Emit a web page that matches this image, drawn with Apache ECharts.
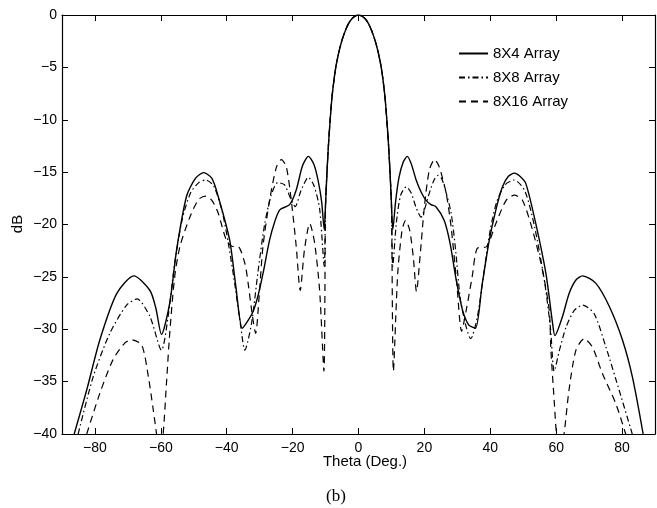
<!DOCTYPE html>
<html>
<head>
<meta charset="utf-8">
<script src="https://cdn.jsdelivr.net/npm/echarts@6/dist/echarts.min.js"></script>
<style>
html,body{margin:0;padding:0;background:#fff;}
#c{width:657px;height:508px;}
</style>
</head>
<body>
<div id="c"></div>
<script>
// ---- data ----
const seriesNames = ['8X4 Array', '8X8 Array', '8X16 Array'];
const xTicks = [-80, -60, -40, -20, 0, 20, 40, 60, 80];

// main lobe shared by all three patterns
const mainTheta = [-10, -9.5, -9, -8.5, -8, -7, -6, -5, -4, -3, -2, -1, 0, 1, 2, 3, 4, 5, 6, 7, 8, 8.5, 9, 9.5, 10];
const mainDb    = [-18.0, -14.6, -11.8, -9.6, -7.7, -5.2, -3.6, -2.4, -1.5, -0.8, -0.35, -0.1, 0, -0.1, -0.35, -0.8, -1.5, -2.4, -3.6, -5.2, -7.7, -9.6, -11.8, -14.6, -18.0];

// 8X4 (solid)
const s4LeftTheta = [-86.3, -82.5, -78.5, -73.4, -68.2, -63.3, -61.5, -59.8, -57.3, -55.2, -52.2, -49.5, -47.0, -44.5, -42.6, -39.1, -37.2, -35.3, -33.8, -32.0, -30.5, -29.0, -27.0, -25.5, -23.9, -20.9, -18.9, -17.0, -15.2, -13.5, -12.3, -11.2, -10.4];
const s4LeftDb    = [-40, -35.8, -31.0, -26.6, -24.9, -26.3, -28.0, -30.5, -27.5, -22.4, -17.3, -15.6, -15.05, -15.6, -17.3, -21.5, -26.0, -29.9, -29.3, -28.3, -26.8, -24.7, -21.5, -19.8, -18.6, -18.1, -16.7, -14.4, -13.5, -14.3, -15.75, -17.8, -20.5];
const s4RightTheta = [10.4, 11.3, 12.3, 13.5, 14.8, 16.0, 17.5, 19.0, 20.5, 22.0, 23.5, 26.0, 27.8, 29.6, 31.6, 33.5, 35.5, 37.5, 39.7, 41.7, 43.7, 45.5, 47.3, 49.0, 50.8, 53.8, 56.9, 58.9, 59.6, 61.9, 63.9, 66.0, 68.0, 72.0, 76.1, 80.1, 83.1, 86.4];
const s4RightDb    = [-20.5, -17.7, -15.5, -14.1, -13.5, -14.2, -15.75, -16.9, -17.7, -18.1, -18.3, -19.6, -21.8, -25.2, -28.2, -29.6, -29.9, -25.8, -21.5, -18.6, -16.4, -15.4, -15.1, -15.4, -16.1, -19.9, -24.7, -29.4, -30.6, -28.8, -26.6, -25.3, -24.9, -25.6, -27.8, -31.0, -34.5, -40];

// 8X8 (dash-dot)
const s8LeftTheta = [-85.1, -80.5, -75.5, -70.4, -67.2, -63.3, -59.8, -57.8, -55.8, -53.5, -51.0, -48.5, -46.4, -44.0, -41.5, -39.5, -37.5, -35.8, -34.5, -32.5, -30.5, -28.5, -26.5, -24.5, -22.5, -20.5, -19.2, -17.5, -15.2, -13.5, -11.8, -10.4];
const s8LeftDb    = [-40, -34.5, -30.4, -27.7, -27.1, -28.8, -32.0, -28.8, -23.7, -19.5, -17.0, -16.0, -15.75, -16.3, -18.6, -21.8, -25.8, -29.6, -32.0, -29.5, -24.5, -20.0, -17.2, -16.0, -16.2, -17.6, -18.3, -16.8, -15.5, -16.3, -18.5, -24.0];
const s8RightTheta = [10.4, 11.5, 12.8, 14.5, 16.0, 17.5, 19.0, 20.3, 21.5, 23.0, 24.2, 25.2, 26.1, 28.1, 29.5, 31.1, 34.1, 36.1, 38.2, 40.0, 42.0, 44.5, 47.3, 50.5, 53.5, 56.5, 58.3, 59.4, 61.0, 63.0, 65.5, 68.0, 71.5, 75.1, 79.1, 83.1];
const s8RightDb    = [-24.0, -19.8, -17.2, -16.4, -17.0, -18.4, -19.3, -18.3, -17.0, -15.7, -15.3, -15.6, -16.4, -18.9, -22.5, -27.5, -30.9, -28.8, -24.3, -20.5, -17.8, -16.2, -15.75, -16.8, -20.3, -25.5, -30.0, -34.0, -32.0, -29.8, -28.2, -27.7, -28.5, -31.7, -35.8, -40];

// 8X16 (dashed)
const s16LeftTheta = [-82.5, -78.5, -74.5, -70.9, -68.9, -65.8, -63.8, -62.3, -61.3, -60.3, -59.3, -58.3, -57.3, -55.8, -54.2, -51.2, -48.5, -46.4, -44.5, -42.6, -40.1, -38.1, -36.6, -34.5, -33.5, -32.3, -31.2, -30.2, -29.0, -27.0, -24.9, -23.4, -21.9, -20.4, -18.9, -17.7, -16.4, -14.8, -13.3, -11.8, -10.5];
const s16LeftDb    = [-40, -36.1, -32.9, -31.3, -31.0, -31.5, -34.5, -37.7, -40, -42, -40, -35.2, -30.4, -25.0, -22.1, -19.3, -17.6, -17.3, -17.7, -18.9, -21.5, -22.1, -22.1, -23.7, -25.6, -28.5, -30.4, -27.0, -22.1, -17.7, -14.5, -13.8, -14.5, -17.7, -22.1, -26.3, -22.4, -19.9, -21.8, -26.3, -34.0];
const s16RightTheta = [10.6, 11.9, 13.2, 14.3, 15.5, 16.6, 17.6, 18.7, 20.0, 21.5, 23.1, 24.5, 26.6, 28.1, 29.8, 31.3, 32.8, 34.5, 36.0, 38.9, 41.7, 44.8, 47.3, 49.8, 52.8, 55.8, 57.9, 58.4, 59.4, 60.1, 61.2, 62.4, 63.9, 66.0, 68.5, 71.0, 74.0, 78.1, 81.1];
const s16RightDb    = [-34.0, -24.7, -20.6, -19.6, -20.5, -23.0, -26.4, -23.0, -18.3, -14.8, -13.8, -14.5, -17.0, -20.2, -25.5, -30.2, -28.0, -25.0, -22.3, -22.1, -19.9, -17.7, -17.2, -17.7, -20.5, -24.3, -28.2, -32.0, -36.8, -40, -42, -40, -35.8, -32.0, -30.9, -31.7, -34.2, -37.1, -40];

// ---- build ----
function pairs(t, d) { return t.map((v, i) => [v, d[i]]); }
function full(lt, ld, rt, rd) {
  return pairs(lt, ld).concat(pairs(mainTheta, mainDb), pairs(rt, rd));
}
const minusFmt = v => String(v).replace('-', '\u2212');
const FONT = 'Liberation Sans, Arial, Helvetica, sans-serif';

const chart = echarts.init(document.getElementById('c'), null, { renderer: 'canvas' });
const axisCommonX = {
  type: 'value', min: -90, max: 90,
  axisLine: { show: true, onZero: false, lineStyle: { color: '#000', width: 1.2 } },
  splitLine: { show: false }
};
const axisCommonY = {
  type: 'value', min: -40, max: 0, interval: 5,
  axisLine: { show: true, onZero: false, lineStyle: { color: '#000', width: 1.2 } },
  splitLine: { show: false }
};
chart.setOption({
  animation: false,
  backgroundColor: '#fff',
  grid: { left: 62, right: 2, top: 15, bottom: 74, containLabel: false },
  xAxis: [
    Object.assign({}, axisCommonX, {
      position: 'bottom',
      axisTick: { show: true, inside: true, length: 6, customValues: xTicks, lineStyle: { color: '#000' } },
      axisLabel: { show: true, customValues: xTicks, formatter: minusFmt, color: '#000', fontSize: 14, fontFamily: FONT, margin: 7 }
    }),
    Object.assign({}, axisCommonX, {
      position: 'top',
      axisTick: { show: true, inside: true, length: 6, customValues: xTicks, lineStyle: { color: '#000' } },
      axisLabel: { show: false }
    })
  ],
  yAxis: [
    Object.assign({}, axisCommonY, {
      position: 'left',
      axisTick: { show: true, inside: true, length: 6, lineStyle: { color: '#000' } },
      axisLabel: { show: true, formatter: minusFmt, color: '#000', fontSize: 14, fontFamily: FONT, margin: 5 }
    }),
    Object.assign({}, axisCommonY, {
      position: 'right',
      axisTick: { show: true, inside: true, length: 6, lineStyle: { color: '#000' } },
      axisLabel: { show: false }
    })
  ],
  legend: {
    orient: 'vertical', left: 458, top: 46, itemWidth: 29, itemHeight: 14, itemGap: 9,
    padding: 0,
    itemStyle: { opacity: 0 },
    textStyle: { color: '#000', fontSize: 15, fontFamily: FONT },
    data: seriesNames
  },
  series: [
    { name: seriesNames[0], type: 'line', symbol: 'none', clip: true, smooth: 0.25,
      lineStyle: { color: '#000', width: 1.4, type: 'solid' },
      itemStyle: { color: '#000' },
      data: full(s4LeftTheta, s4LeftDb, s4RightTheta, s4RightDb) },
    { name: seriesNames[1], type: 'line', symbol: 'none', clip: true, smooth: 0.25,
      lineStyle: { color: '#000', width: 1.2, type: [6, 3, 1.5, 3] },
      itemStyle: { color: '#000' },
      data: full(s8LeftTheta, s8LeftDb, s8RightTheta, s8RightDb) },
    { name: seriesNames[2], type: 'line', symbol: 'none', clip: true, smooth: 0.25,
      lineStyle: { color: '#000', width: 1.2, type: [7, 5] },
      itemStyle: { color: '#000' },
      data: full(s16LeftTheta, s16LeftDb, s16RightTheta, s16RightDb) }
  ],
  graphic: [
    { type: 'text', style: { text: 'Theta (Deg.)', fontSize: 15, fontFamily: FONT, fill: '#000', textAlign: 'center', textVerticalAlign: 'middle' }, position: [365, 462] },
    { type: 'text', style: { text: 'dB', fontSize: 15, fontFamily: FONT, fill: '#000', textAlign: 'center', textVerticalAlign: 'middle' }, position: [18, 224], rotation: Math.PI / 2 },
    { type: 'text', style: { text: '(b)', fontSize: 17, fontFamily: 'Liberation Serif, Times New Roman, serif', fill: '#000', textAlign: 'center', textVerticalAlign: 'middle' }, position: [336, 497] }
  ]
});
</script>
</body>
</html>
